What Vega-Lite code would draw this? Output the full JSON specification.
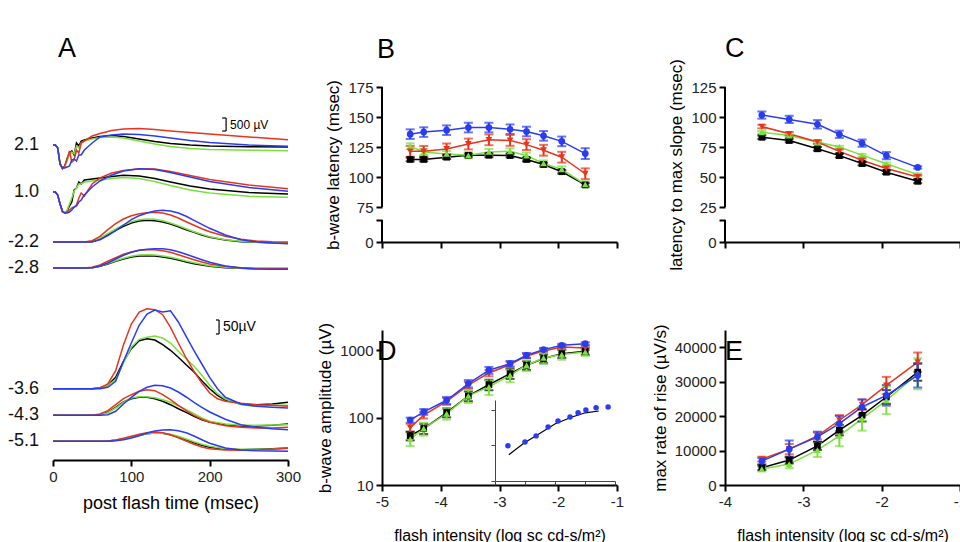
{
  "$schema": "https://vega.github.io/schema/vega-lite/v6.json",
  "background": "white",
  "autosize": {"type": "pad"},
  "padding": {"left": 7, "top": 34, "right": 0, "bottom": 0},
  "columns": 3,
  "spacing": {"row": 88, "column": 94},
  "bounds": "flush",
  "datasets": {
    "top": [
      {"i":"2.1","t":0,"k":127,"g":127,"r":127,"b":127},
      {"i":"2.1","t":3,"k":127,"g":127,"r":127,"b":127},
      {"i":"2.1","t":6,"k":124,"g":124,"r":124,"b":124},
      {"i":"2.1","t":9,"k":108,"g":108,"r":108,"b":108},
      {"i":"2.1","t":12,"k":104,"g":104,"r":103,"b":104},
      {"i":"2.1","t":15,"k":106,"g":105,"r":106,"b":104},
      {"i":"2.1","t":18,"k":113,"g":111,"r":113,"b":105},
      {"i":"2.1","t":21,"k":119,"g":117,"r":121,"b":106},
      {"i":"2.1","t":24,"k":121,"g":120,"r":110,"b":112},
      {"i":"2.1","t":27,"k":117,"g":118,"r":112,"b":113},
      {"i":"2.1","t":30,"k":129,"g":126,"r":122,"b":111},
      {"i":"2.1","t":33,"k":126,"g":124,"r":119,"b":117},
      {"i":"2.1","t":36,"k":131,"g":129,"r":129,"b":117},
      {"i":"2.1","t":40,"k":132,"g":131,"r":131,"b":122},
      {"i":"2.1","t":50,"k":134,"g":133,"r":136,"b":129},
      {"i":"2.1","t":60,"k":135.5,"g":134.5,"r":138.5,"b":135},
      {"i":"2.1","t":75,"k":136.5,"g":135,"r":141.5,"b":137},
      {"i":"2.1","t":90,"k":135.5,"g":134,"r":143,"b":138},
      {"i":"2.1","t":110,"k":133,"g":131,"r":143.5,"b":137.5},
      {"i":"2.1","t":130,"k":130.5,"g":128,"r":142.5,"b":136},
      {"i":"2.1","t":150,"k":128.5,"g":125.5,"r":141,"b":134},
      {"i":"2.1","t":175,"k":127,"g":123.5,"r":139.5,"b":131.5},
      {"i":"2.1","t":200,"k":126,"g":122.5,"r":138,"b":129.5},
      {"i":"2.1","t":250,"k":125.2,"g":121.7,"r":135,"b":127},
      {"i":"2.1","t":300,"k":125,"g":121.3,"r":132.3,"b":125.7},
      {"i":"1.0","t":0,"k":80,"g":80,"r":80,"b":80},
      {"i":"1.0","t":3,"k":80,"g":80,"r":80,"b":80},
      {"i":"1.0","t":6,"k":77,"g":77,"r":77,"b":77},
      {"i":"1.0","t":9,"k":68,"g":68,"r":68,"b":68},
      {"i":"1.0","t":12,"k":61,"g":61,"r":60,"b":61},
      {"i":"1.0","t":15,"k":59,"g":59,"r":59,"b":59},
      {"i":"1.0","t":18,"k":61,"g":62,"r":60,"b":59},
      {"i":"1.0","t":21,"k":66,"g":68,"r":62,"b":60},
      {"i":"1.0","t":24,"k":70,"g":74,"r":64,"b":62},
      {"i":"1.0","t":27,"k":82,"g":81,"r":65,"b":65},
      {"i":"1.0","t":30,"k":84,"g":84,"r":67,"b":66},
      {"i":"1.0","t":33,"k":90,"g":88,"r":74,"b":70},
      {"i":"1.0","t":36,"k":88,"g":88,"r":79,"b":72},
      {"i":"1.0","t":40,"k":92,"g":90,"r":76,"b":77},
      {"i":"1.0","t":50,"k":93,"g":91,"r":88,"b":85},
      {"i":"1.0","t":60,"k":94,"g":92,"r":94,"b":91},
      {"i":"1.0","t":75,"k":95.5,"g":93.5,"r":99,"b":97},
      {"i":"1.0","t":90,"k":96.7,"g":94.5,"r":101.5,"b":101},
      {"i":"1.0","t":110,"k":96,"g":93.5,"r":103.2,"b":103.2},
      {"i":"1.0","t":130,"k":93.5,"g":90.5,"r":103,"b":102.5},
      {"i":"1.0","t":150,"k":90,"g":86.5,"r":100.5,"b":99.5},
      {"i":"1.0","t":175,"k":86,"g":82,"r":96.5,"b":95},
      {"i":"1.0","t":200,"k":83,"g":79,"r":92.5,"b":90.5},
      {"i":"1.0","t":250,"k":79.5,"g":75.7,"r":87,"b":84.5},
      {"i":"1.0","t":300,"k":78,"g":74.7,"r":83.3,"b":80.7},
      {"i":"-2.2","t":0,"k":30,"g":30,"r":30,"b":30},
      {"i":"-2.2","t":40,"k":30,"g":30,"r":30,"b":30},
      {"i":"-2.2","t":50,"k":30.3,"g":30.7,"r":31.3,"b":30.3},
      {"i":"-2.2","t":60,"k":33,"g":34,"r":35.7,"b":32.3},
      {"i":"-2.2","t":70,"k":37.3,"g":38.3,"r":42.3,"b":36.3},
      {"i":"-2.2","t":80,"k":41.7,"g":43,"r":48.3,"b":41.3},
      {"i":"-2.2","t":90,"k":45.7,"g":47,"r":53,"b":47},
      {"i":"-2.2","t":100,"k":49,"g":50.3,"r":56.3,"b":52.3},
      {"i":"-2.2","t":110,"k":51,"g":52.3,"r":58.3,"b":56.3},
      {"i":"-2.2","t":120,"k":51.7,"g":53,"r":59.3,"b":59},
      {"i":"-2.2","t":130,"k":51.3,"g":52.7,"r":59.7,"b":61},
      {"i":"-2.2","t":140,"k":50,"g":51.3,"r":59,"b":61.7},
      {"i":"-2.2","t":150,"k":48,"g":49,"r":57,"b":61},
      {"i":"-2.2","t":160,"k":45.3,"g":46.3,"r":54,"b":59},
      {"i":"-2.2","t":170,"k":42.3,"g":43.3,"r":50.3,"b":55.7},
      {"i":"-2.2","t":180,"k":39.7,"g":40.3,"r":46.7,"b":51.7},
      {"i":"-2.2","t":190,"k":37,"g":37.7,"r":43.3,"b":47.7},
      {"i":"-2.2","t":200,"k":34.7,"g":35.3,"r":40.3,"b":43.7},
      {"i":"-2.2","t":220,"k":32,"g":32.3,"r":35.7,"b":37},
      {"i":"-2.2","t":240,"k":30.3,"g":30.7,"r":32.7,"b":32.3},
      {"i":"-2.2","t":260,"k":29.7,"g":29.7,"r":31,"b":30},
      {"i":"-2.2","t":280,"k":29.3,"g":29.3,"r":30.3,"b":29},
      {"i":"-2.2","t":300,"k":29,"g":29,"r":30,"b":28.3},
      {"i":"-2.8","t":0,"k":4,"g":4,"r":4,"b":4},
      {"i":"-2.8","t":40,"k":4,"g":4,"r":4,"b":4},
      {"i":"-2.8","t":50,"k":4.3,"g":4.3,"r":4.7,"b":4.3},
      {"i":"-2.8","t":60,"k":5.7,"g":6,"r":7,"b":6},
      {"i":"-2.8","t":70,"k":8,"g":8.5,"r":10.7,"b":9},
      {"i":"-2.8","t":80,"k":10.7,"g":11.3,"r":14.3,"b":13},
      {"i":"-2.8","t":90,"k":13,"g":13.7,"r":17.7,"b":16.7},
      {"i":"-2.8","t":100,"k":15,"g":15.7,"r":20,"b":19.7},
      {"i":"-2.8","t":110,"k":16,"g":17,"r":21.7,"b":21.7},
      {"i":"-2.8","t":120,"k":16.3,"g":17.3,"r":22.3,"b":22.7},
      {"i":"-2.8","t":130,"k":16,"g":17,"r":22.3,"b":23.3},
      {"i":"-2.8","t":140,"k":15,"g":16,"r":21.3,"b":23.3},
      {"i":"-2.8","t":150,"k":13.7,"g":14.7,"r":19.7,"b":22.3},
      {"i":"-2.8","t":160,"k":12,"g":13,"r":17.3,"b":20.3},
      {"i":"-2.8","t":170,"k":10,"g":11,"r":14.7,"b":17.7},
      {"i":"-2.8","t":180,"k":8.3,"g":9.3,"r":12.3,"b":15},
      {"i":"-2.8","t":190,"k":7,"g":7.7,"r":10,"b":12.3},
      {"i":"-2.8","t":200,"k":5.7,"g":6.3,"r":8,"b":9.7},
      {"i":"-2.8","t":220,"k":4.3,"g":4.7,"r":5.7,"b":6},
      {"i":"-2.8","t":240,"k":3.7,"g":3.7,"r":4.3,"b":4},
      {"i":"-2.8","t":260,"k":3.3,"g":3.3,"r":3.7,"b":3},
      {"i":"-2.8","t":280,"k":3.3,"g":3.3,"r":3.7,"b":2.7},
      {"i":"-2.8","t":300,"k":3.3,"g":3.3,"r":3.7,"b":2.7}
    ],
    "bot": [
      {"i":"-3.6","t":0,"k":71.3,"g":71.3,"r":71.3,"b":71.3},
      {"i":"-3.6","t":50,"k":71.3,"g":71.3,"r":71.3,"b":71.3},
      {"i":"-3.6","t":60,"k":72.3,"g":72,"r":72,"b":71.3},
      {"i":"-3.6","t":70,"k":74.7,"g":74.7,"r":76,"b":72.7},
      {"i":"-3.6","t":80,"k":82.7,"g":80.3,"r":89.3,"b":78.7},
      {"i":"-3.6","t":90,"k":98.7,"g":97,"r":115.3,"b":98.7},
      {"i":"-3.6","t":100,"k":111.3,"g":112.7,"r":136,"b":117},
      {"i":"-3.6","t":110,"k":119.3,"g":120.7,"r":148,"b":134.7},
      {"i":"-3.6","t":120,"k":121.3,"g":122.7,"r":151.3,"b":146},
      {"i":"-3.6","t":130,"k":120,"g":124,"r":150.3,"b":150},
      {"i":"-3.6","t":140,"k":115.3,"g":122,"r":145.3,"b":148},
      {"i":"-3.6","t":150,"k":109.7,"g":117,"r":132.7,"b":149.3},
      {"i":"-3.6","t":160,"k":102.7,"g":108.7,"r":117,"b":138},
      {"i":"-3.6","t":170,"k":95.3,"g":101.3,"r":102,"b":123.7},
      {"i":"-3.6","t":180,"k":88,"g":93.7,"r":88.7,"b":109.3},
      {"i":"-3.6","t":190,"k":79.3,"g":84.7,"r":77,"b":96},
      {"i":"-3.6","t":200,"k":71.3,"g":74.7,"r":67,"b":82.7},
      {"i":"-3.6","t":210,"k":64.7,"g":66.3,"r":61.3,"b":71.3},
      {"i":"-3.6","t":220,"k":60,"g":61,"r":58.7,"b":62.7},
      {"i":"-3.6","t":240,"k":56,"g":55.3,"r":56.7,"b":56},
      {"i":"-3.6","t":260,"k":55.3,"g":53.7,"r":55.3,"b":53.7},
      {"i":"-3.6","t":280,"k":56,"g":54.7,"r":54.7,"b":52.7},
      {"i":"-3.6","t":300,"k":57.7,"g":54.7,"r":53.7,"b":52},
      {"i":"-4.3","t":0,"k":44.7,"g":44.7,"r":44.7,"b":44.7},
      {"i":"-4.3","t":50,"k":44.7,"g":44.7,"r":44.7,"b":44.7},
      {"i":"-4.3","t":60,"k":45.3,"g":45.3,"r":46,"b":44.7},
      {"i":"-4.3","t":70,"k":47.7,"g":47.3,"r":49.3,"b":45.3},
      {"i":"-4.3","t":80,"k":52.7,"g":52,"r":55.3,"b":48.7},
      {"i":"-4.3","t":90,"k":58,"g":57.7,"r":61.3,"b":56},
      {"i":"-4.3","t":100,"k":61.3,"g":62,"r":65.3,"b":62.7},
      {"i":"-4.3","t":110,"k":62.7,"g":63.3,"r":68.7,"b":68.7},
      {"i":"-4.3","t":120,"k":62.7,"g":63.3,"r":70.3,"b":72.7},
      {"i":"-4.3","t":130,"k":61.3,"g":62.3,"r":69.3,"b":74.7},
      {"i":"-4.3","t":140,"k":58.7,"g":60.3,"r":65.3,"b":74.3},
      {"i":"-4.3","t":150,"k":55.3,"g":57.7,"r":60.3,"b":72},
      {"i":"-4.3","t":160,"k":51.3,"g":54.3,"r":54.7,"b":68},
      {"i":"-4.3","t":170,"k":47.7,"g":50.3,"r":49.3,"b":63},
      {"i":"-4.3","t":180,"k":43.7,"g":46.3,"r":44.7,"b":57.7},
      {"i":"-4.3","t":190,"k":40.3,"g":42,"r":40.7,"b":52.7},
      {"i":"-4.3","t":200,"k":38,"g":38.7,"r":37.7,"b":48},
      {"i":"-4.3","t":220,"k":35.3,"g":36,"r":34.3,"b":40.7},
      {"i":"-4.3","t":240,"k":34,"g":34.7,"r":32.7,"b":35.3},
      {"i":"-4.3","t":260,"k":34,"g":34.7,"r":32,"b":32.7},
      {"i":"-4.3","t":280,"k":34.7,"g":35,"r":32,"b":31.3},
      {"i":"-4.3","t":300,"k":36,"g":35.3,"r":32.7,"b":30.3},
      {"i":"-5.1","t":0,"k":18.7,"g":18.7,"r":18.7,"b":18.7},
      {"i":"-5.1","t":50,"k":18.7,"g":18.7,"r":18.7,"b":18.7},
      {"i":"-5.1","t":60,"k":18.7,"g":18.7,"r":18.7,"b":18.7},
      {"i":"-5.1","t":70,"k":19,"g":19,"r":19,"b":18.7},
      {"i":"-5.1","t":80,"k":19.7,"g":19.7,"r":20,"b":19.3},
      {"i":"-5.1","t":90,"k":21,"g":21,"r":21.7,"b":20.3},
      {"i":"-5.1","t":100,"k":22.7,"g":22.7,"r":23.7,"b":22},
      {"i":"-5.1","t":110,"k":24.7,"g":24.7,"r":25.7,"b":24.3},
      {"i":"-5.1","t":120,"k":26.3,"g":26.3,"r":27.3,"b":27},
      {"i":"-5.1","t":130,"k":27,"g":27,"r":28,"b":29},
      {"i":"-5.1","t":140,"k":26.7,"g":26.7,"r":27.3,"b":30},
      {"i":"-5.1","t":150,"k":25.3,"g":25.7,"r":25.3,"b":30.3},
      {"i":"-5.1","t":160,"k":23,"g":23.7,"r":22.3,"b":29.3},
      {"i":"-5.1","t":170,"k":20.3,"g":21,"r":19,"b":27.3},
      {"i":"-5.1","t":180,"k":17.3,"g":18.3,"r":15.7,"b":24},
      {"i":"-5.1","t":190,"k":14.7,"g":15.7,"r":13,"b":20.3},
      {"i":"-5.1","t":200,"k":12.7,"g":13.7,"r":11.3,"b":16.7},
      {"i":"-5.1","t":220,"k":10.7,"g":11.3,"r":10,"b":12},
      {"i":"-5.1","t":240,"k":10.3,"g":10.7,"r":9.7,"b":10},
      {"i":"-5.1","t":260,"k":10.7,"g":10.7,"r":10,"b":9.3},
      {"i":"-5.1","t":280,"k":11.3,"g":11,"r":10.7,"b":9},
      {"i":"-5.1","t":300,"k":12,"g":11.7,"r":11.7,"b":8.7}
    ],
    "B": [
      {"g":"k","x":-4.52,"y":114.6,"e":1.5},{"g":"k","x":-4.29,"y":114.6,"e":1.5},{"g":"k","x":-3.9,"y":116.5,"e":1.5},{"g":"k","x":-3.53,"y":118.1,"e":1.5},{"g":"k","x":-3.18,"y":118.1,"e":1.5},{"g":"k","x":-2.82,"y":117.9,"e":1.5},{"g":"k","x":-2.54,"y":114.6,"e":1.5},{"g":"k","x":-2.25,"y":110.4,"e":1.5},{"g":"k","x":-1.94,"y":104.4,"e":1.5},{"g":"k","x":-1.54,"y":93.4,"e":1.5},
      {"g":"g","x":-4.52,"y":125.5,"e":2.5},{"g":"g","x":-4.29,"y":120.9,"e":2.5},{"g":"g","x":-3.9,"y":119.2,"e":2.5},{"g":"g","x":-3.53,"y":118.1,"e":2.5},{"g":"g","x":-3.18,"y":120.9,"e":2.5},{"g":"g","x":-2.82,"y":121.4,"e":2.5},{"g":"g","x":-2.54,"y":117.9,"e":2.5},{"g":"g","x":-2.25,"y":111.3,"e":2.5},{"g":"g","x":-1.94,"y":106.3,"e":2.5},{"g":"g","x":-1.54,"y":93.9,"e":2.5},
      {"g":"r","x":-4.52,"y":121.4,"e":4.5},{"g":"r","x":-4.29,"y":121.4,"e":4.5},{"g":"r","x":-3.9,"y":123.4,"e":4.5},{"g":"r","x":-3.53,"y":127.5,"e":4.5},{"g":"r","x":-3.18,"y":131,"e":4.5},{"g":"r","x":-2.82,"y":130.5,"e":4.5},{"g":"r","x":-2.54,"y":127,"e":4.5},{"g":"r","x":-2.25,"y":122.3,"e":4.5},{"g":"r","x":-1.94,"y":116.5,"e":4.5},{"g":"r","x":-1.54,"y":102.7,"e":4.5},
      {"g":"b","x":-4.52,"y":135.7,"e":4},{"g":"b","x":-4.29,"y":137.4,"e":4},{"g":"b","x":-3.9,"y":139,"e":4},{"g":"b","x":-3.53,"y":141.2,"e":4},{"g":"b","x":-3.18,"y":141.2,"e":4},{"g":"b","x":-2.82,"y":139.8,"e":4},{"g":"b","x":-2.54,"y":137.9,"e":4},{"g":"b","x":-2.25,"y":134.3,"e":4},{"g":"b","x":-1.94,"y":129.7,"e":4},{"g":"b","x":-1.54,"y":119.5,"e":4.5}
    ],
    "C": [
      {"g":"k","x":-3.53,"y":83.1,"e":1.5},{"g":"k","x":-3.18,"y":80.4,"e":1.5},{"g":"k","x":-2.82,"y":73.5,"e":1.5},{"g":"k","x":-2.54,"y":67.8,"e":1.5},{"g":"k","x":-2.25,"y":61.2,"e":1.5},{"g":"k","x":-1.94,"y":54,"e":1.5},{"g":"k","x":-1.54,"y":46.4,"e":1.5},
      {"g":"g","x":-3.53,"y":87.3,"e":1},{"g":"g","x":-3.18,"y":84.6,"e":1},{"g":"g","x":-2.82,"y":79.1,"e":1},{"g":"g","x":-2.54,"y":75,"e":1},{"g":"g","x":-2.25,"y":68.2,"e":1},{"g":"g","x":-1.94,"y":61,"e":1},{"g":"g","x":-1.54,"y":52,"e":1},
      {"g":"r","x":-3.53,"y":92,"e":1.5},{"g":"r","x":-3.18,"y":86,"e":1.5},{"g":"r","x":-2.82,"y":79.1,"e":1.5},{"g":"r","x":-2.54,"y":71.4,"e":1.5},{"g":"r","x":-2.25,"y":63.9,"e":1.5},{"g":"r","x":-1.94,"y":57.1,"e":1.5},{"g":"r","x":-1.54,"y":50,"e":1.5},
      {"g":"b","x":-3.53,"y":101.6,"e":3},{"g":"b","x":-3.18,"y":98,"e":3},{"g":"b","x":-2.82,"y":93.9,"e":3.5},{"g":"b","x":-2.54,"y":85.6,"e":3},{"g":"b","x":-2.25,"y":78.2,"e":3},{"g":"b","x":-1.94,"y":67.8,"e":3},{"g":"b","x":-1.54,"y":58,"e":1}
    ],
    "D": [
      {"g":"k","x":-4.52,"y":54,"e":8},{"g":"k","x":-4.29,"y":69,"e":12},{"g":"k","x":-3.9,"y":119,"e":18},{"g":"k","x":-3.53,"y":210,"e":35},{"g":"k","x":-3.18,"y":310,"e":55},{"g":"k","x":-2.82,"y":451,"e":75},{"g":"k","x":-2.54,"y":600,"e":90},{"g":"k","x":-2.25,"y":754,"e":110},{"g":"k","x":-1.94,"y":892,"e":120},{"g":"k","x":-1.54,"y":967,"e":110},
      {"g":"g","x":-4.52,"y":48,"e":10},{"g":"g","x":-4.29,"y":69,"e":15},{"g":"g","x":-3.9,"y":115,"e":22},{"g":"g","x":-3.53,"y":210,"e":45},{"g":"g","x":-3.18,"y":286,"e":70},{"g":"g","x":-2.82,"y":426,"e":90},{"g":"g","x":-2.54,"y":600,"e":110},{"g":"g","x":-2.25,"y":769,"e":140},{"g":"g","x":-1.94,"y":863,"e":140},{"g":"g","x":-1.54,"y":944,"e":120},
      {"g":"r","x":-4.52,"y":71,"e":10},{"g":"r","x":-4.29,"y":109,"e":12},{"g":"r","x":-3.9,"y":175,"e":20},{"g":"r","x":-3.53,"y":303,"e":35},{"g":"r","x":-3.18,"y":461,"e":50},{"g":"r","x":-2.82,"y":614,"e":60},{"g":"r","x":-2.54,"y":824,"e":60},{"g":"r","x":-2.25,"y":977,"e":60},{"g":"r","x":-1.94,"y":1120,"e":70},{"g":"r","x":-1.54,"y":1080,"e":70},
      {"g":"b","x":-4.52,"y":92,"e":8},{"g":"b","x":-4.29,"y":122,"e":12},{"g":"b","x":-3.9,"y":181,"e":22},{"g":"b","x":-3.53,"y":321,"e":40},{"g":"b","x":-3.18,"y":506,"e":60},{"g":"b","x":-2.82,"y":634,"e":60},{"g":"b","x":-2.54,"y":843,"e":70},{"g":"b","x":-2.25,"y":1023,"e":60},{"g":"b","x":-1.94,"y":1186,"e":60},{"g":"b","x":-1.54,"y":1255,"e":60}
    ],
    "E": [
      {"g":"k","x":-3.53,"y":5010,"e":700},{"g":"k","x":-3.18,"y":7230,"e":1000},{"g":"k","x":-2.82,"y":11370,"e":1200},{"g":"k","x":-2.54,"y":15900,"e":1500},{"g":"k","x":-2.25,"y":20240,"e":1800},{"g":"k","x":-1.94,"y":25540,"e":2000},{"g":"k","x":-1.54,"y":32770,"e":2500},
      {"g":"g","x":-3.53,"y":4630,"e":700},{"g":"g","x":-3.18,"y":6070,"e":1200},{"g":"g","x":-2.82,"y":10120,"e":2000},{"g":"g","x":-2.54,"y":14260,"e":3000},{"g":"g","x":-2.25,"y":19280,"e":3500},{"g":"g","x":-1.94,"y":24580,"e":4000},{"g":"g","x":-1.54,"y":32290,"e":4500},
      {"g":"r","x":-3.53,"y":7520,"e":700},{"g":"r","x":-3.18,"y":10400,"e":1500},{"g":"r","x":-2.82,"y":14260,"e":1000},{"g":"r","x":-2.54,"y":18800,"e":1500},{"g":"r","x":-2.25,"y":23320,"e":1500},{"g":"r","x":-1.94,"y":28900,"e":2500},{"g":"r","x":-1.54,"y":35660,"e":2800},
      {"g":"b","x":-3.53,"y":6940,"e":900},{"g":"b","x":-3.18,"y":10400,"e":2500},{"g":"b","x":-2.82,"y":13980,"e":1500},{"g":"b","x":-2.54,"y":17830,"e":2200},{"g":"b","x":-2.25,"y":22650,"e":2200},{"g":"b","x":-1.94,"y":26020,"e":3000},{"g":"b","x":-1.54,"y":31800,"e":3500}
    ],
    "inset": [
      {"x":0.43,"y":0.99},{"x":1.0,"y":1.1},{"x":1.37,"y":1.27},{"x":1.77,"y":1.52},{"x":2.1,"y":1.69},{"x":2.5,"y":1.8},{"x":2.77,"y":1.92},{"x":3.03,"y":2.0},{"x":3.37,"y":2.06},{"x":3.77,"y":2.08}
    ],
    "insetfit": [
      {"x":0.46,"y":0.74},{"x":0.97,"y":1.07},{"x":1.34,"y":1.26},{"x":2.01,"y":1.61},{"x":2.57,"y":1.8},{"x":3.01,"y":1.92},{"x":3.46,"y":1.97}
    ]
  },
  "concat": [
    {
      "width": 235, "height": 155,
      "title": {"text": "A", "dx": 5, "offset": 24},
      "data": {"name": "top"},
      "layer": [
        {
          "transform": [{"fold": ["k","g","r","b"], "as": ["c","v"]}],
          "mark": {"type": "line", "strokeWidth": 1.5},
          "encoding": {
            "x": {"field": "t", "type": "quantitative", "scale": {"domain": [0,300], "nice": false}, "axis": null},
            "y": {"field": "v", "type": "quantitative", "scale": {"domain": [30,185], "nice": false, "zero": false}, "axis": null},
            "color": {"field": "c", "type": "nominal", "scale": {"domain": ["k","g","r","b"], "range": ["#000000","#79e03c","#e8341c","#2a3cf2"]}, "legend": null},
            "detail": {"field": "i"}
          }
        },
        {
          "transform": [{"filter": "datum.t == 0"}],
          "mark": {"type": "text", "align": "right", "baseline": "middle", "dx": -14, "fontSize": 18, "color": "#111"},
          "encoding": {
            "x": {"field": "t", "type": "quantitative", "axis": null},
            "y": {"field": "k", "type": "quantitative", "axis": null},
            "text": {"field": "i"}
          }
        },
        {
          "data": {"values": [{"t":216,"t2":221,"v":141,"v2":141},{"t":216,"t2":221,"v":154,"v2":154},{"t":221,"t2":221,"v":141,"v2":154}]},
          "mark": {"type": "rule", "strokeWidth": 1.2, "color": "black"},
          "encoding": {
            "x": {"field": "t", "type": "quantitative", "axis": null}, "x2": {"field": "t2"},
            "y": {"field": "v", "type": "quantitative", "axis": null}, "y2": {"field": "v2"}
          }
        },
        {
          "data": {"values": [{"t":226,"v":147.5,"s":"500 µV"}]},
          "mark": {"type": "text", "align": "left", "baseline": "middle", "fontSize": 12},
          "encoding": {
            "x": {"field": "t", "type": "quantitative", "axis": null},
            "y": {"field": "v", "type": "quantitative", "axis": null},
            "text": {"field": "s"}
          }
        }
      ]
    },
    {
      "width": 249, "height": 155,
      "title": {"text": "B", "dx": -5, "offset": 15},
      "data": {"name": "B"},
      "encoding": {
        "x": {"field": "x", "type": "quantitative", "scale": {"domain": [-5,-1], "range": [0,235], "nice": false, "zero": false}, "axis": {"values": [-5,-4,-3,-2,-1], "labels": false, "title": null}},
        "y": {"field": "y", "type": "quantitative", "scale": {"domain": [0,75,175], "range": [155,120,0], "nice": false}, "axis": {"values": [0,47,75,100,125,150,175], "labelExpr": "datum.value == 47 ? '' : datum.label", "domain": false, "title": "b-wave latency (msec)"}},
        "color": {"field": "g", "type": "nominal", "scale": {"domain": ["k","g","r","b"], "range": ["#000000","#79e03c","#e8341c","#2a3cf2"]}, "legend": null}
      },
      "layer": [
        {
          "data": {"values": [{"x":-5,"y":75,"y2":175},{"x":-5,"y":0,"y2":47}]},
          "mark": {"type": "rule", "strokeWidth": 2},
          "encoding": {"y2": {"field": "y2"}, "color": {"value": "black"}}
        },
        {"mark": {"type": "line", "strokeWidth": 1.5}},
        {"mark": {"type": "errorbar", "ticks": {"size": 9, "thickness": 2}, "thickness": 2}, "encoding": {"yError": {"field": "e"}}},
        {"mark": {"type": "point", "filled": true, "size": 45, "opacity": 1}, "encoding": {"shape": {"field": "g", "type": "nominal", "scale": {"domain": ["k","g","r","b"], "range": ["square","triangle-up","triangle-down","circle"]}, "legend": null}}}
      ]
    },
    {
      "width": 235, "height": 155,
      "title": {"text": "C", "dx": 0, "offset": -4},
      "data": {"name": "C"},
      "encoding": {
        "x": {"field": "x", "type": "quantitative", "scale": {"domain": [-4,-1], "nice": false, "zero": false}, "axis": {"values": [-4,-3,-2,-1], "labels": false, "title": null}},
        "y": {"field": "y", "type": "quantitative", "scale": {"domain": [0,25,125], "range": [155,120,0], "nice": false}, "axis": {"values": [0,15.7,25,50,75,100,125], "labelExpr": "datum.value == 15.7 ? '' : datum.label", "domain": false, "title": "latency to max slope (msec)"}},
        "color": {"field": "g", "type": "nominal", "scale": {"domain": ["k","g","r","b"], "range": ["#000000","#79e03c","#e8341c","#2a3cf2"]}, "legend": null}
      },
      "layer": [
        {
          "data": {"values": [{"x":-4,"y":25,"y2":125},{"x":-4,"y":0,"y2":15.7}]},
          "mark": {"type": "rule", "strokeWidth": 2},
          "encoding": {"y2": {"field": "y2"}, "color": {"value": "black"}}
        },
        {"mark": {"type": "line", "strokeWidth": 1.5}},
        {"mark": {"type": "errorbar", "ticks": {"size": 9, "thickness": 2}, "thickness": 2}, "encoding": {"yError": {"field": "e"}}},
        {"mark": {"type": "point", "filled": true, "size": 45, "opacity": 1}, "encoding": {"shape": {"field": "g", "type": "nominal", "scale": {"domain": ["k","g","r","b"], "range": ["square","triangle-up","triangle-down","circle"]}, "legend": null}}}
      ]
    },
    {
      "width": 235, "height": 130,
      "data": {"name": "bot"},
      "layer": [
        {
          "transform": [{"fold": ["k","g","r","b"], "as": ["c","v"]}],
          "mark": {"type": "line", "strokeWidth": 1.5},
          "encoding": {
            "x": {"field": "t", "type": "quantitative", "scale": {"domain": [0,300], "nice": false}, "axis": {"values": [0,50,100,150,200,250,300], "labelExpr": "datum.value % 100 == 0 ? datum.label : ''", "title": "post flash time (msec)", "titleFontSize": 18, "titlePadding": 10}},
            "y": {"field": "v", "type": "quantitative", "scale": {"domain": [0,130], "nice": false, "zero": false}, "axis": null},
            "color": {"field": "c", "type": "nominal", "scale": {"domain": ["k","g","r","b"], "range": ["#000000","#79e03c","#e8341c","#2a3cf2"]}, "legend": null},
            "detail": {"field": "i"}
          }
        },
        {
          "transform": [{"filter": "datum.t == 0"}],
          "mark": {"type": "text", "align": "right", "baseline": "middle", "dx": -14, "fontSize": 18, "color": "#111"},
          "encoding": {
            "x": {"field": "t", "type": "quantitative"},
            "y": {"field": "k", "type": "quantitative", "axis": null},
            "text": {"field": "i"}
          }
        },
        {
          "data": {"values": [{"t":208,"t2":212,"v":126,"v2":126},{"t":208,"t2":212,"v":140,"v2":140},{"t":212,"t2":212,"v":126,"v2":140}]},
          "mark": {"type": "rule", "strokeWidth": 1.2, "color": "black"},
          "encoding": {
            "x": {"field": "t", "type": "quantitative"}, "x2": {"field": "t2"},
            "y": {"field": "v", "type": "quantitative", "axis": null}, "y2": {"field": "v2"}
          }
        },
        {
          "data": {"values": [{"t":217,"v":133,"s":"50µV"}]},
          "mark": {"type": "text", "align": "left", "baseline": "middle", "fontSize": 14},
          "encoding": {
            "x": {"field": "t", "type": "quantitative"},
            "y": {"field": "v", "type": "quantitative", "axis": null},
            "text": {"field": "s"}
          }
        }
      ]
    },
    {
      "width": 249, "height": 155,
      "title": {"text": "D", "dx": -5, "offset": -44},
      "layer": [
        {
          "data": {"name": "D"},
          "encoding": {
            "x": {"field": "x", "type": "quantitative", "scale": {"domain": [-5,-1], "range": [0,235], "nice": false, "zero": false}, "axis": {"values": [-5,-4,-3,-2,-1], "labelExpr": "replace(datum.label, '−', '-')", "title": "flash intensity (log sc cd-s/m²)", "titlePadding": 18, "titleFontSize": 16}},
            "y": {"field": "y", "type": "quantitative", "scale": {"type": "log", "domain": [10,2000], "nice": false}, "axis": {"values": [10,100,1000], "format": "d", "title": "b-wave amplitude (µV)"}},
            "color": {"field": "g", "type": "nominal", "scale": {"domain": ["k","g","r","b"], "range": ["#000000","#79e03c","#e8341c","#2a3cf2"]}, "legend": null}
          },
          "layer": [
            {"mark": {"type": "line", "strokeWidth": 1.5}},
            {"mark": {"type": "errorbar", "ticks": {"size": 9, "thickness": 2}, "thickness": 2}, "encoding": {"yError": {"field": "e"}}},
            {"mark": {"type": "point", "filled": true, "size": 45, "opacity": 1}, "encoding": {"shape": {"field": "g", "type": "nominal", "scale": {"domain": ["k","g","r","b"], "range": ["square","triangle-up","triangle-down","circle"]}, "legend": null}}}
          ]
        },
        {
          "encoding": {
            "x": {"field": "x", "type": "quantitative", "scale": {"domain": [0,4], "range": [113,233], "nice": false, "zero": false}, "axis": {"orient": "bottom", "offset": -4, "values": [0,1,2,3,4], "labels": false, "title": null, "domainWidth": 1, "domainColor": "#444", "tickWidth": 1, "tickSize": 4, "tickColor": "#444"}},
            "y": {"field": "y", "type": "quantitative", "scale": {"domain": [0,2.28], "range": [151,70], "nice": false, "zero": false}, "axis": {"orient": "left", "offset": -113, "values": [0,1,2], "labels": false, "title": null, "domainWidth": 1, "domainColor": "#444", "tickWidth": 1, "tickSize": 4, "tickColor": "#444"}}
          },
          "layer": [
            {"data": {"name": "insetfit"}, "mark": {"type": "line", "color": "black", "strokeWidth": 1.2}},
            {"data": {"name": "inset"}, "mark": {"type": "point", "filled": true, "size": 30, "opacity": 1, "color": "#2a3cf2"}}
          ]
        }
      ],
      "resolve": {"scale": {"x": "independent", "y": "independent"}, "axis": {"x": "independent", "y": "independent"}}
    },
    {
      "width": 235, "height": 155,
      "title": {"text": "E", "dx": 0, "offset": -42},
      "data": {"name": "E"},
      "encoding": {
        "x": {"field": "x", "type": "quantitative", "scale": {"domain": [-4,-1], "nice": false, "zero": false}, "axis": {"values": [-4,-3,-2,-1], "labelExpr": "replace(datum.label, '−', '-')", "title": "flash intensity (log sc cd-s/m²)", "titlePadding": 18, "titleFontSize": 16}},
        "y": {"field": "y", "type": "quantitative", "scale": {"domain": [0,45000], "nice": false}, "axis": {"values": [0,10000,20000,30000,40000], "format": "d", "title": "max rate of rise (µV/s)"}},
        "color": {"field": "g", "type": "nominal", "scale": {"domain": ["k","g","r","b"], "range": ["#000000","#79e03c","#e8341c","#2a3cf2"]}, "legend": null}
      },
      "layer": [
        {"mark": {"type": "line", "strokeWidth": 1.5}},
        {"mark": {"type": "errorbar", "ticks": {"size": 9, "thickness": 2}, "thickness": 2}, "encoding": {"yError": {"field": "e"}}},
        {"mark": {"type": "point", "filled": true, "size": 45, "opacity": 1}, "encoding": {"shape": {"field": "g", "type": "nominal", "scale": {"domain": ["k","g","r","b"], "range": ["square","triangle-up","triangle-down","circle"]}, "legend": null}}}
      ]
    }
  ],
  "config": {
    "font": "Liberation Sans",
    "view": {"stroke": null},
    "title": {"fontSize": 27, "fontWeight": "normal", "anchor": "start", "frame": "group", "color": "#000", "font": "Liberation Sans", "offset": 0},
    "axis": {"domainColor": "#000", "domainWidth": 2, "tickColor": "#000", "tickWidth": 2, "tickSize": 6, "labelFontSize": 15, "labelColor": "#222", "labelFont": "Liberation Sans", "labelFlush": false, "labelPadding": 3, "titleFontSize": 17, "titleFontWeight": "normal", "titleColor": "#000", "titleFont": "Liberation Sans", "titlePadding": 5, "grid": false}
  }
}
